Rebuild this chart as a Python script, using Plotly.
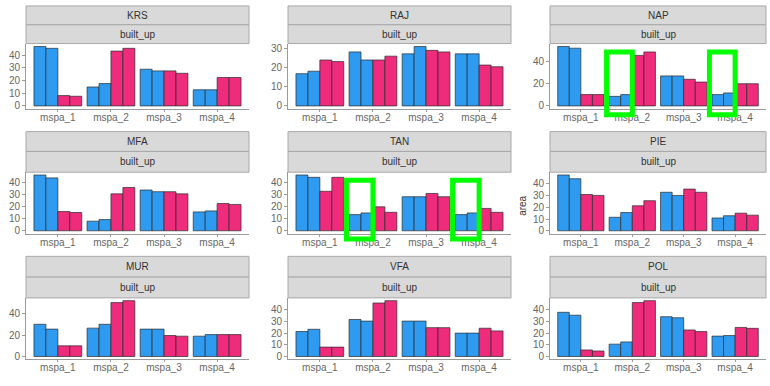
import plotly.graph_objects as go

# ---- data -------------------------------------------------------------
cities = ["KRS", "RAJ", "NAP", "MFA", "TAN", "PIE", "MUR", "VFA", "POL"]
landcover = "built_up"
mspa = ["mspa_1", "mspa_2", "mspa_3", "mspa_4"]
series = ["s1", "s2", "s3", "s4"]

# area per mspa class, four series per city
KRS = [[46.8, 14.9, 28.9, 12.7], [45.4, 17.6, 27.6, 12.7], [8.1, 43.2, 27.6, 22.4], [7.6, 45.4, 25.7, 22.4]]
RAJ = [[16.7, 28.0, 27.0, 27.0], [18.0, 23.8, 30.8, 27.0], [23.8, 23.8, 28.8, 21.2], [23.0, 25.8, 28.0, 20.3]]
NAP = [[53.5, 8.6, 27.0, 10.2], [52.0, 10.2, 27.0, 11.7], [10.2, 45.5, 24.0, 20.0], [10.2, 48.6, 21.5, 20.0]]
MFA = [[46.4, 8.0, 33.9, 15.7], [44.0, 9.3, 32.5, 16.5], [16.0, 30.7, 32.5, 22.7], [15.2, 36.0, 30.7, 21.9]]
TAN = [[45.9, 13.3, 28.0, 13.3], [44.0, 14.7, 28.0, 14.7], [32.5, 19.7, 30.7, 18.4], [44.0, 15.2, 28.0, 15.2]]
PIE = [[47.5, 11.5, 32.8, 10.9], [44.3, 15.5, 30.1, 12.8], [30.9, 21.3, 35.5, 15.0], [30.1, 25.6, 32.8, 13.3]]
MUR = [[30.0, 26.4, 25.5, 18.9], [25.5, 30.0, 25.5, 20.4], [9.9, 50.2, 19.5, 20.4], [9.9, 52.0, 18.9, 20.4]]
VFA = [[21.4, 31.7, 30.3, 20.0], [23.3, 30.3, 30.3, 20.0], [8.0, 45.8, 24.7, 24.2], [8.0, 47.8, 24.7, 21.9]]
POL = [[38.0, 10.6, 34.2, 17.5], [35.5, 12.5, 33.3, 18.0], [5.6, 46.4, 22.8, 25.0], [4.7, 48.0, 21.4, 24.2]]
values = [KRS, RAJ, NAP, MFA, TAN, PIE, MUR, VFA, POL]

# y break spacing per panel
y_steps = [10, 10, 20, 10, 10, 10, 20, 10, 10]

# highlighted (city, mspa class) pairs
highlights = [("NAP", "mspa_2"), ("NAP", "mspa_4"), ("TAN", "mspa_2"), ("TAN", "mspa_4")]

# ---- layout geometry (pixels) ------------------------------------------
W, H = 770, 386
col_px = [(26, 249), (288, 511), (550, 766)]
row_px = [(43, 109), (173, 235), (300, 362)]   # panel top / bottom
strip_top = [5, 132, 258]
strip_mid = [24, 152, 279]

bar_colors = ["#2E9AF0", "#2E9AF0", "#EF2B7B", "#EF2B7B"]
x_range = [-0.6, 3.6]

fig = go.Figure()
shapes, annotations = [], []
font_family = "Arial, Liberation Sans, sans-serif"


def px_x(v):
    return v / W


def px_y(v):
    return 1 - v / H


for k, (city, vals) in enumerate(zip(cities, values)):
    r, c = divmod(k, 3)
    ax = "" if k == 0 else str(k + 1)
    x0p, x1p = col_px[c]
    ytop, ybot = row_px[r]

    for j in range(4):
        fig.add_trace(go.Bar(
            x=mspa, y=vals[j], name=series[j], showlegend=False,
            marker=dict(color=bar_colors[j], line=dict(color="#2b2b2b", width=0.7)),
            xaxis="x" + ax, yaxis="y" + ax,
        ))

    vmax = max(max(s) for s in vals)
    step = y_steps[k]
    tv = list(range(0, int(vmax) + 1, step))

    common = dict(showline=True, linecolor="#9a9a9a", linewidth=1, ticks="outside",
                  tickcolor="#9a9a9a", showgrid=False, zeroline=False,
                  tickfont=dict(size=10, color="#666666", family=font_family))
    fig.layout["xaxis" + ax] = dict(domain=[px_x(x0p), px_x(x1p)], anchor="y" + ax,
                                    type="category", range=x_range, ticklen=2,
                                    ticklabelstandoff=-3, **common)
    fig.layout["yaxis" + ax] = dict(domain=[px_y(ybot), px_y(ytop)], anchor="x" + ax,
                                    range=[-0.05 * vmax, 1.05 * vmax], tickvals=tv,
                                    ticklen=3, fixedrange=True, **common)

    # facet strips: city on top, land-cover class below
    for (t0, t1, label) in [(strip_top[r], strip_mid[r], city), (strip_mid[r], ytop, landcover)]:
        shapes.append(dict(type="rect", xref="paper", yref="paper",
                           x0=px_x(x0p), x1=px_x(x1p), y0=px_y(t1), y1=px_y(t0),
                           fillcolor="#D9D9D9", line=dict(color="#A8A8A8", width=1), layer="below"))
        annotations.append(dict(xref="paper", yref="paper", x=px_x((x0p + x1p) / 2),
                                y=px_y((t0 + t1) / 2), text=label, showarrow=False,
                                font=dict(size=10, color="#333333", family=font_family),
                                xanchor="center", yanchor="middle"))

    # highlight boxes around the first two bars of a class
    for hc, hm in highlights:
        if hc != city:
            continue
        i = mspa.index(hm)
        span = x_range[1] - x_range[0]
        bx0 = (i - 0.5 - x_range[0]) / span
        bx1 = (i + 0.0 - x_range[0]) / span
        shapes.append(dict(type="rect", xref="x" + ax + " domain", yref="y" + ax + " domain",
                           x0=bx0, x1=bx1, y0=-0.09, y1=0.87,
                           line=dict(color="#00FF00", width=5), fillcolor="rgba(0,0,0,0)",
                           layer="above"))

# y-axis title placed beside the PIE panel
annotations.append(dict(xref="paper", yref="paper", x=px_x(523), y=px_y(207), text="area",
                        textangle=-90, showarrow=False, xanchor="center", yanchor="middle",
                        font=dict(size=10, color="#333333", family=font_family)))

fig.update_layout(
    width=W, height=H, margin=dict(l=0, r=0, t=0, b=0),
    paper_bgcolor="white", plot_bgcolor="white",
    barmode="group", bargap=0.1, bargroupgap=0,
    shapes=shapes, annotations=annotations, showlegend=False,
    font=dict(family=font_family),
)

fig.write_html("out.html", config={"displayModeBar": False})
